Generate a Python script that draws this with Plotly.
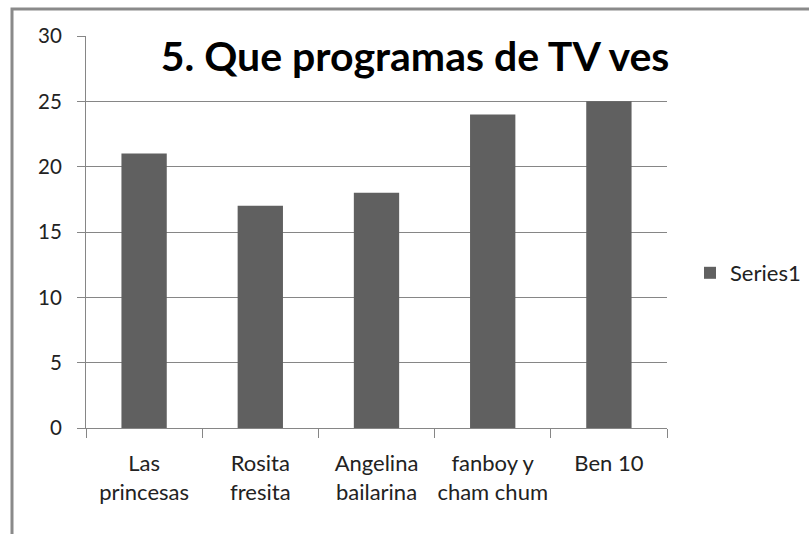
import plotly.graph_objects as go

categories = ["Las<br>princesas", "Rosita<br>fresita", "Angelina<br>bailarina", "fanboy y<br>cham chum", "Ben 10"]
values = [21, 17, 18, 24, 25]
series_name = "Series1"
title_text = "5. Que programas de TV ves"
y_ticks = [0, 5, 10, 15, 20, 25, 30]

W, H = 809, 534
L, R, T, B = 86, 667, 36, 428
pw, ph = R - L, B - T

def px_x(x):
    return (x - L) / pw

def px_y(y):
    return (B - y) / ph

FONT = "Lato"
GRID = "#868686"

fig = go.Figure()
fig.add_trace(go.Bar(
    x=categories, y=values, name=series_name,
    marker=dict(color="#606060", line=dict(width=0)),
    showlegend=True,
))

fig.update_layout(
    width=W, height=H,
    margin=dict(l=L, r=W - R, t=T, b=H - B, pad=0, autoexpand=False),
    paper_bgcolor="white", plot_bgcolor="white",
    bargap=0.61,
    font=dict(family=FONT, color="#222222"),
    title=dict(text="<b>" + title_text + "</b>", x=415 / W, xanchor="center",
               y=1 - 57 / H, yanchor="middle", yref="container",
               font=dict(family=FONT, size=41, color="#000000")),
    showlegend=True,
    legend=dict(x=px_x(690), xanchor="left", y=px_y(273), yanchor="middle",
                font=dict(family=FONT, size=22, color="#222222"),
                bgcolor="rgba(0,0,0,0)", itemwidth=30),
    xaxis=dict(
        type="category", showline=True, linecolor=GRID, linewidth=1,
        ticks="outside", ticklen=9, tickcolor=GRID, tickwidth=1,
        tickson="boundaries", showgrid=False, tickangle=0, automargin=False,
        tickfont=dict(family=FONT, size=22, color="#222222"),
        ticklabelstandoff=16,
        range=[-0.5, 4.5],
    ),
    yaxis=dict(
        range=[0, 30], tickvals=y_ticks, showgrid=True, gridcolor=GRID, gridwidth=1,
        showline=True, linecolor=GRID, linewidth=1, automargin=False,
        ticks="outside", ticklen=8, tickcolor=GRID, tickwidth=1,
        tickfont=dict(family=FONT, size=20.5, color="#222222"),
        ticklabelstandoff=11, zeroline=False,
    ),
    shapes=[dict(type="rect", xref="paper", yref="paper",
                 x0=px_x(12), x1=px_x(830), y0=px_y(560), y1=px_y(9),
                 line=dict(color="#8a8a8a", width=3), fillcolor="rgba(0,0,0,0)",
                 layer="below")],
)

fig.write_html("out.html", config={"displayModeBar": False},
               post_script="document.body.style.margin='0';")
